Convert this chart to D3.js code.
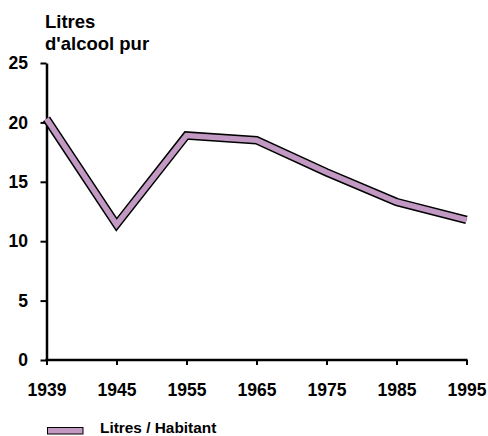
<!DOCTYPE html>
<html>
<head>
<meta charset="utf-8">
<script src="https://cdn.jsdelivr.net/npm/d3@7"></script>
<style>
  body { margin: 0; background: #fff; }
  text { font-family: "Liberation Sans", Arial, sans-serif; font-weight: bold; }
</style>
</head>
<body>
<div class="chart"></div>
<script>
const years = ["1939", "1945", "1955", "1965", "1975", "1985", "1995"];
const litres = [20.3, 11.4, 18.9, 18.5, 15.8, 13.3, 11.8];
const y_ticks = [0, 5, 10, 15, 20, 25];

const margin = { top: 63, left: 46.5, right: 21.5, bottom: 76 };
const width = 488;
const height = 436;

const fill_colour = "#c199c2";

const svg = d3.select(".chart")
    .append("svg")
    .attr("width", width)
    .attr("height", height);

const x_scale = d3.scalePoint()
    .domain(years)
    .range([margin.left, width - margin.right]);

const y_scale = d3.scaleLinear()
    .domain([0, 25])
    .range([height - margin.bottom, margin.top]);

// axis title
svg.append("text")
    .attr("x", 45)
    .attr("y", 28)
    .attr("font-size", 18.5)
    .text("Litres");
svg.append("text")
    .attr("x", 45)
    .attr("y", 50)
    .attr("font-size", 18.5)
    .text("d'alcool pur");

// y axis
const y_axis = svg.append("g")
    .attr("transform", "translate(" + margin.left + ",0)")
    .call(d3.axisLeft(y_scale).tickValues(y_ticks).tickSize(6).tickPadding(12.5).tickSizeOuter(0));

// x axis
const x_axis = svg.append("g")
    .attr("transform", "translate(0," + y_scale(0) + ")")
    .call(d3.axisBottom(x_scale).tickSize(5).tickPadding(19).tickSizeOuter(0));

[y_axis, x_axis].forEach(function(g) {
    g.select(".domain").attr("stroke", "#000").attr("stroke-width", 2.5);
    g.selectAll(".tick line").attr("stroke", "#000").attr("stroke-width", 2);
    g.selectAll(".tick text")
        .attr("fill", "#000")
        .attr("font-size", 17.5)
        .attr("font-family", "Liberation Sans, Arial, sans-serif")
        .attr("font-weight", "bold");
});

// extend x domain line so it meets the y axis
x_axis.select(".domain").attr("d", "M" + (margin.left - 1) + ",0H" + (width - margin.right + 1));

// the ribbon line: black outline then lilac fill
const line = d3.line()
    .x(function(d, i) { return x_scale(years[i]); })
    .y(function(d) { return y_scale(d); });

svg.append("path")
    .datum(litres)
    .attr("d", line)
    .attr("fill", "none")
    .attr("stroke", "#000")
    .attr("stroke-width", 8.5);

svg.append("path")
    .datum(litres)
    .attr("d", line)
    .attr("fill", "none")
    .attr("stroke", fill_colour)
    .attr("stroke-width", 5.5);

// legend
svg.append("rect")
    .attr("x", 47.5)
    .attr("y", 427.5)
    .attr("width", 35.5)
    .attr("height", 6.5)
    .attr("fill", fill_colour)
    .attr("stroke", "#000")
    .attr("stroke-width", 1);

svg.append("text")
    .attr("x", 100)
    .attr("y", 433)
    .attr("font-size", 15.4)
    .text("Litres / Habitant");
</script>
</body>
</html>
